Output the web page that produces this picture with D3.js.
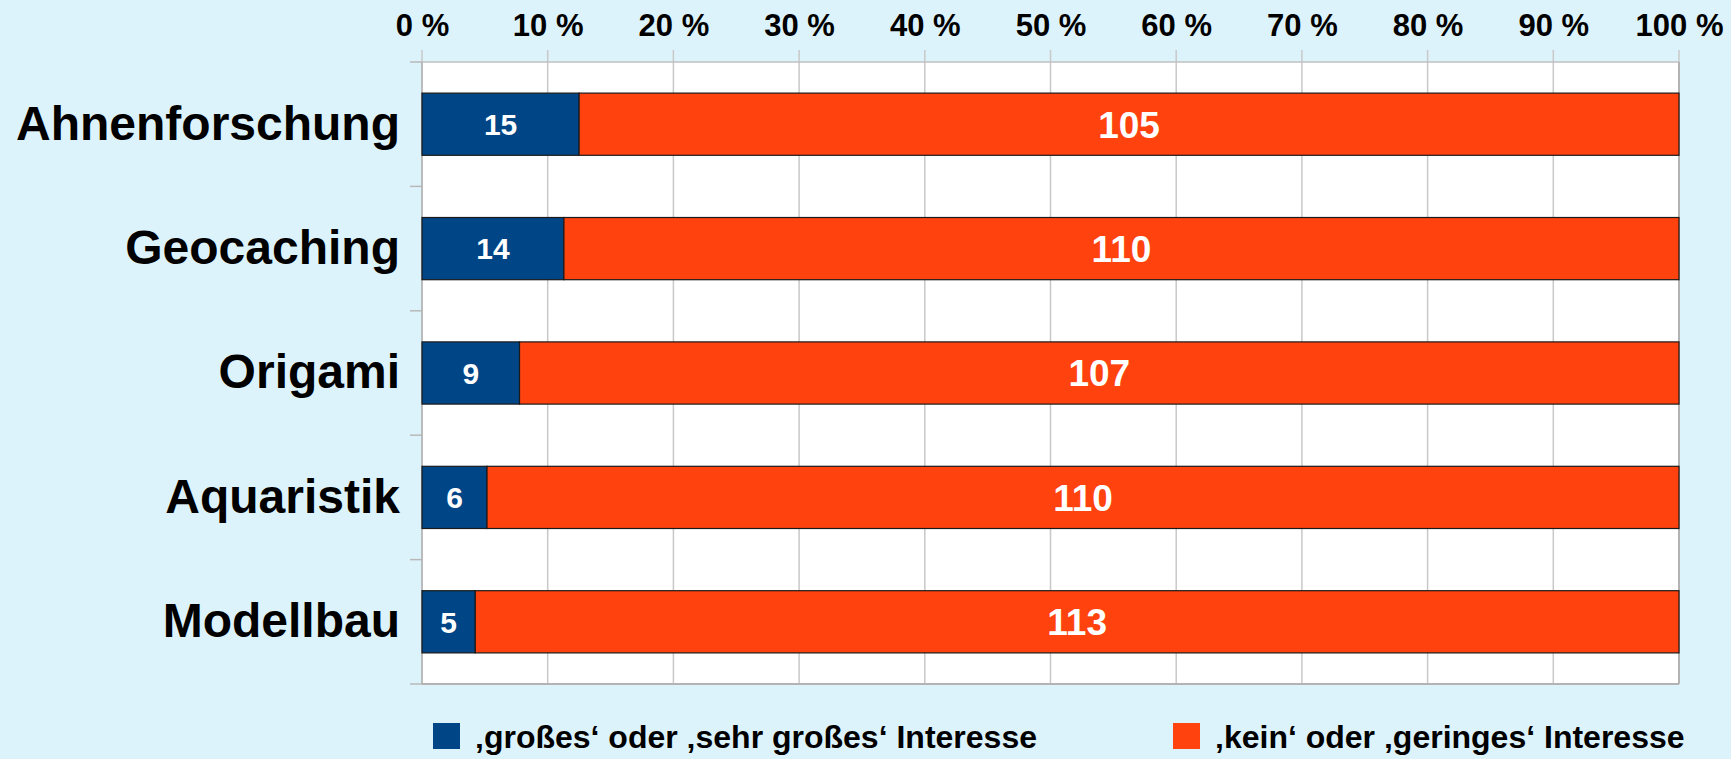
<!DOCTYPE html>
<html>
<head>
<meta charset="utf-8">
<script src="https://cdn.jsdelivr.net/npm/d3@7"></script>
<style>
  html, body { margin: 0; padding: 0; background: #ddf3fc; }
  svg { display: block; }
  text { font-family: "Liberation Sans", Arial, sans-serif; font-weight: bold; }
</style>
</head>
<body>
<svg id="chart" width="1731" height="759"></svg>
<script>
const categories = ["Ahnenforschung", "Geocaching", "Origami", "Aquaristik", "Modellbau"];
const highInterest = [15, 14, 9, 6, 5];
const lowInterest = [105, 110, 107, 110, 113];
const seriesNames = ["\u201Agroßes\u2018 oder \u201Asehr großes\u2018 Interesse", "\u201Akein\u2018 oder \u201Ageringes\u2018 Interesse"];
const tickValues = [0, 10, 20, 30, 40, 50, 60, 70, 80, 90, 100];
const colors = ["#004586", "#ff420e"];

const W = 1731, H = 759;
const m = { left: 422, right: 52, top: 62, bottom: 75 };
const pw = W - m.left - m.right, ph = H - m.top - m.bottom;

const svg = d3.select("#chart");
svg.append("rect").attr("width", W).attr("height", H).attr("fill", "#ddf3fc");

const x = d3.scaleLinear().domain([0, 100]).range([0, pw]);
const y = d3.scaleBand().domain(categories).range([0, ph]).paddingInner(0.5).paddingOuter(0.25);

const g = svg.append("g").attr("transform", `translate(${m.left},${m.top})`);

// plot background
g.append("rect").attr("width", pw).attr("height", ph).attr("fill", "#ffffff");

// vertical gridlines (with ticks above plot)
g.append("g").selectAll("line").data(tickValues).join("line")
  .attr("x1", d => x(d)).attr("x2", d => x(d))
  .attr("y1", -12).attr("y2", ph)
  .attr("stroke", "#c8c8c8").attr("stroke-width", 1.5);

// top border
g.append("line").attr("x1", 0).attr("x2", pw).attr("y1", 0).attr("y2", 0)
  .attr("stroke", "#c0c0c0").attr("stroke-width", 1.5);

// x axis labels at top
const xAxis = d3.axisTop(x).tickValues(tickValues).tickFormat(d => d + " %").tickSize(0).tickPadding(26);
const xa = g.append("g").call(xAxis);
xa.select(".domain").remove();
xa.selectAll("text").attr("font-size", 31).attr("fill", "#000")
  .attr("font-family", "'Liberation Sans', Arial, sans-serif").attr("font-weight", "bold");

// y axis: band boundaries ticks
const bounds = d3.range(categories.length + 1).map(i => i * ph / categories.length);
g.append("g").selectAll("line").data(bounds).join("line")
  .attr("x1", -12).attr("x2", 0).attr("y1", d => d).attr("y2", d => d)
  .attr("stroke", "#b8b8b8").attr("stroke-width", 1.5);
g.append("line").attr("x1", 0).attr("x2", 0).attr("y1", 0).attr("y2", ph)
  .attr("stroke", "#b3b3b3").attr("stroke-width", 1.5);
// bottom and right borders
g.append("line").attr("x1", 0).attr("x2", pw).attr("y1", ph).attr("y2", ph)
  .attr("stroke", "#b3b3b3").attr("stroke-width", 2);
g.append("line").attr("x1", pw).attr("x2", pw).attr("y1", 0).attr("y2", ph)
  .attr("stroke", "#b3b3b3").attr("stroke-width", 2);

// category labels
const yAxis = d3.axisLeft(y).tickSize(0).tickPadding(22);
const ya = g.append("g").call(yAxis);
ya.select(".domain").remove();
ya.selectAll("text").attr("font-size", 48).attr("fill", "#000")
  .attr("font-family", "'Liberation Sans', Arial, sans-serif").attr("font-weight", "bold");

// stacked data
const rows = categories.map((c, i) => {
  const tot = highInterest[i] + lowInterest[i];
  return { cat: c, vals: [highInterest[i], lowInterest[i]], tot };
});
const segs = [];
rows.forEach(r => {
  let acc = 0;
  r.vals.forEach((v, k) => {
    const p0 = acc / r.tot * 100, p1 = (acc + v) / r.tot * 100;
    segs.push({ cat: r.cat, k, v, p0, p1 });
    acc += v;
  });
});

g.append("g").selectAll("rect").data(segs).join("rect")
  .attr("x", d => x(d.p0)).attr("width", d => x(d.p1) - x(d.p0))
  .attr("y", d => y(d.cat)).attr("height", y.bandwidth())
  .attr("fill", d => colors[d.k])
  .attr("stroke", "#1a1a1a").attr("stroke-width", 1.2);

g.append("g").selectAll("text").data(segs).join("text")
  .attr("x", d => (x(d.p0) + x(d.p1)) / 2)
  .attr("y", d => y(d.cat) + y.bandwidth() / 2)
  .attr("dy", "0.36em")
  .attr("text-anchor", "middle")
  .attr("fill", "#ffffff")
  .attr("font-size", d => d.k === 0 ? 30 : 37)
  .text(d => d.v);

// legend
const legendX = [433, 1173];
const lg = svg.append("g");
seriesNames.forEach((name, i) => {
  const item = lg.append("g").attr("transform", `translate(${legendX[i]},723)`);
  item.append("rect").attr("width", 27).attr("height", 26).attr("fill", colors[i]);
  item.append("text").attr("x", 42).attr("y", 13).attr("dy", "0.36em")
    .attr("font-size", 32).attr("fill", "#000").text(name);
});
</script>
</body>
</html>
